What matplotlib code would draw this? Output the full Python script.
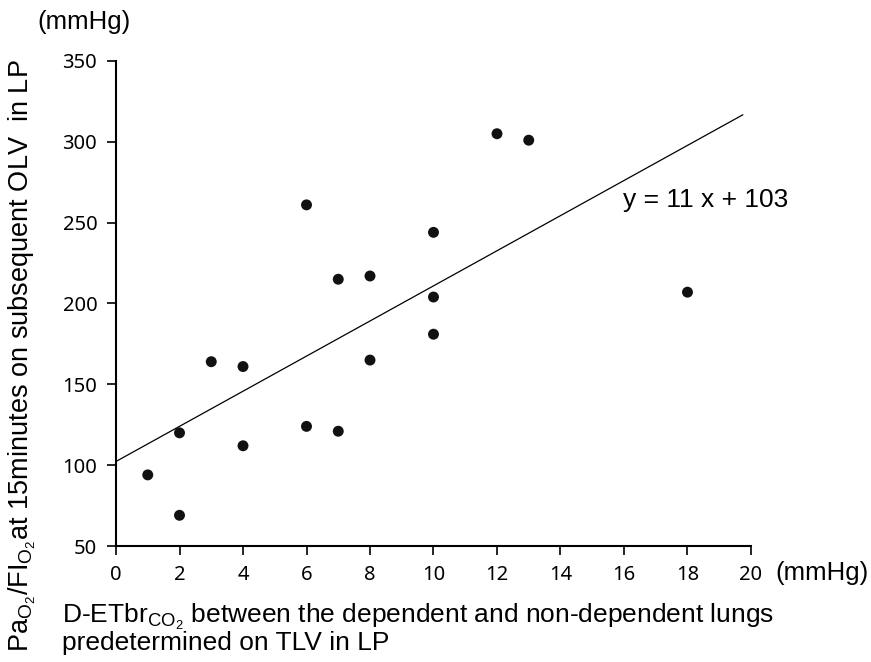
import matplotlib
matplotlib.use("Agg")
import matplotlib.pyplot as plt
import numpy as np

plt.rcParams['mathtext.fontset'] = 'custom'
plt.rcParams['mathtext.rm'] = 'Liberation Sans'
plt.rcParams['mathtext.it'] = 'Liberation Sans'

# D-ETbrCO2 (mmHg) vs PaO2/FIO2 (mmHg)
d_etbr = [1, 2, 2, 3, 4, 4, 6, 6, 7, 7, 8, 8, 10, 10, 10, 12, 13, 18]
pf_ratio = [94, 120, 69, 164, 161, 112, 261, 124, 215, 121, 217, 165, 244, 204, 181, 305, 301, 207]

# regression line as drawn
fit_x = [0, 19.74]
fit_slope = 10.86
fit_intercept = 102.3

x_ticks = list(range(0, 21, 2))
y_ticks = [50, 100, 150, 200, 250, 300, 350]

label_font = 'Liberation Sans'
tick_font = 'Noto Sans'

fig = plt.figure(figsize=(8.71, 6.62), dpi=100)
ax = fig.add_axes([0.1332, 0.1752, 0.7290, 0.7327])

fx = np.array(fit_x)
ax.plot(fx, fit_slope * fx + fit_intercept, color='black', lw=0.9, zorder=2)
ax.scatter(d_etbr, pf_ratio, s=62, color='#111111', edgecolors='none', zorder=3)

ax.set_xlim(0, 20)
ax.set_ylim(50, 350)
ax.set_xticks(x_ticks)
ax.set_yticks(y_ticks)
ax.spines['top'].set_visible(False)
ax.spines['right'].set_visible(False)
for s in ('left', 'bottom'):
    ax.spines[s].set_linewidth(1.5)
ax.tick_params(direction='out', length=6.5, width=1.2, pad=7, labelsize=14.5)
for lab in ax.get_xticklabels() + ax.get_yticklabels():
    lab.set_fontfamily(tick_font)

ax.text(15.97, 264, 'y = 11 x + 103', fontsize=19, family=label_font,
        ha='left', va='center')

# unit labels
fig.text(37 / 871, 1 - 22 / 662, '(mmHg)', fontsize=18.5, family=label_font,
         ha='left', va='center')
fig.text(775 / 871, 1 - 573 / 662, '(mmHg)', fontsize=18.5, family=label_font,
         ha='left', va='center')

# axis titles
fig.text(22 / 871, 1 - 356 / 662,
         r'Pa$_{\mathrm{O}_2}$/FI$_{\mathrm{O}_2}$at 15minutes on subsequent OLV  in LP',
         fontsize=19.5, family=label_font, rotation=90, ha='center', va='center')
fig.text(62 / 871, 1 - 623 / 662,
         r'D-ETbr$_{\mathrm{CO}_2}$ between the dependent and non-dependent lungs',
         fontsize=19, family=label_font, ha='left', va='baseline')
fig.text(62 / 871, 1 - 650 / 662, 'predetermined on TLV in LP',
         fontsize=19, family=label_font, ha='left', va='baseline')

fig.savefig('out.png', dpi=100)
